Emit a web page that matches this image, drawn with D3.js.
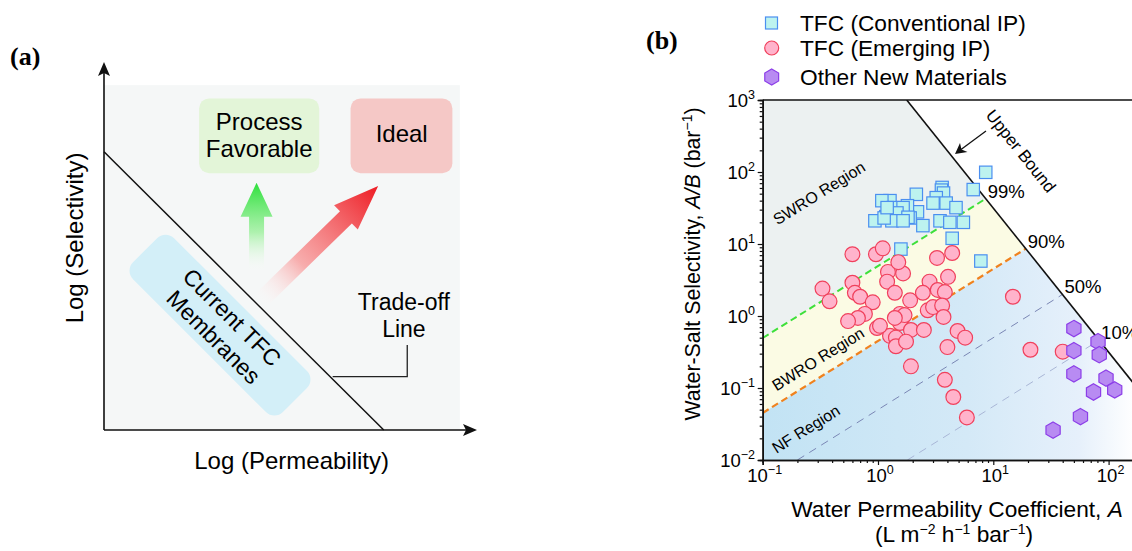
<!DOCTYPE html>
<html>
<head>
<meta charset="UTF-8">
<title></title>
<script src="https://cdn.jsdelivr.net/npm/d3@7"></script>
<style>
    body{margin:0;background:#fff;}
    svg{display:block;font-family:"Liberation Sans",Arial,sans-serif;}
</style>
</head>
<body>
<script>
// ---- panel (b) data ----
var conventionalA=[8.6,6.7,3.6,3.55,3.7,3.2,3.0,3.9,4.75,3.45,4.2,5.5,4.4,7.8,2.15,2.45,2.2,1.9,1.8,1.27,1.08,1.35,1.65,1.46,1.17,0.94,1.32,1.58,1.82,1.65,1.13,1.2];
var conventionalSel=[99,57,61,56,51,44,37,37,32,21,20,20,12,5.8,49,18,28,23,34,40,40,32,32,27,24,21,21,8.5,23.5,21,23,32];
var emergingA=[0.6,0.96,1.1,1.22,1.2,1.65,1.5,2.8,3.25,4.4,4.05,0.33,0.38,0.6,0.63,0.7,0.9,0.77,0.67,0.55,0.98,1.4,1.9,1.55,1.65,1.55,1.93,2.5,1.27,1.43,1.43,1.75,1.93,2.45,2.7,3.0,3.3,3.8,3.6,3.7,4.9,5.7,4.0,3.8,4.5,5.9,14.8,21,40,1.7,1.04,1.4];
var emergingSel=[7.2,7.2,8.7,4.1,3.0,3.9,5.6,3.0,6.4,7.5,3.5,2.4,1.6,2.9,2.1,1.85,1.55,1.07,0.94,0.85,0.68,2.1,1.65,1.07,0.97,0.8,0.64,0.64,0.53,0.5,0.38,0.44,0.2,2.1,1.2,1.33,2.3,2.15,1.4,0.97,0.62,0.5,0.37,0.13,0.075,0.039,1.85,0.34,0.32,1.03,0.73,0.94];
var otherA=[50,50,81,83,50,95,113,74,57,33];
var otherSel=[0.67,0.33,0.44,0.29,0.157,0.137,0.094,0.088,0.040,0.026];
var rejections=[0.99,0.9,0.5,0.1];
var rejectionLabels=["99%","90%","50%","10%"];
var fluxJw=20;          // L m-2 h-1 used for the iso-rejection lines
var upperBoundC=3150;   // A/B = C * A^-2
var decadesX=[0.1,1,10,100];
var decadesY=[0.01,0.1,1,10,100,1000];
var legendLabels=["TFC (Conventional IP)","TFC (Emerging IP)","Other New Materials"];
var regionLabels=["SWRO Region","BWRO Region","NF Region"];

var svg=d3.select("body").append("svg").attr("width",1132).attr("height",551);
var defs=svg.append("defs");

function sup(t,base,exp,fs){
    t.append("tspan").text(base);
    t.append("tspan").attr("font-size",fs).attr("dy",-8).text(exp);
}

// ================= panel (a) =================
var xa=d3.scaleLinear().domain([0,100]).range([104,477]);
var ya=d3.scaleLinear().domain([0,100]).range([430,62]);
var pa=svg.append("g");

pa.append("rect").attr("x",xa(0)).attr("y",ya(93.7)).attr("width",xa(95.4)-xa(0)).attr("height",ya(0)-ya(93.7))
    .style("fill","#f5f7f7");

// current membranes box (rotated)
var cur=pa.append("g").attr("transform","translate("+xa(31.1)+","+ya(28.5)+") rotate(45)");
cur.append("rect").attr("x",-106).attr("y",-29).attr("width",212).attr("height",58).attr("rx",12)
    .style("fill","#d3eff8");
cur.append("text").attr("x",3).attr("y",-6).attr("text-anchor","middle").attr("font-size",23).text("Current TFC");
cur.append("text").attr("x",4).attr("y",21).attr("text-anchor","middle").attr("font-size",23).text("Membranes");

// boxes
pa.append("rect").attr("x",xa(25.5)).attr("y",ya(90.1)).attr("width",xa(57.7)-xa(25.5)).attr("height",ya(69.8)-ya(90.1))
    .attr("rx",10).style("fill","#e3f5d8");
pa.append("rect").attr("x",xa(66.1)).attr("y",ya(90.1)).attr("width",xa(93.4)-xa(66.1)).attr("height",ya(69.8)-ya(90.1))
    .attr("rx",10).style("fill","#f5c8c6");
pa.append("text").attr("x",xa(41.6)).attr("y",130).attr("text-anchor","middle").attr("font-size",24).text("Process");
pa.append("text").attr("x",xa(41.6)).attr("y",156.5).attr("text-anchor","middle").attr("font-size",24).text("Favorable");
pa.append("text").attr("x",xa(79.8)).attr("y",142).attr("text-anchor","middle").attr("font-size",24).text("Ideal");

// arrows
var gg=defs.append("linearGradient").attr("id","gArrow").attr("x1",0).attr("y1",1).attr("x2",0).attr("y2",0);
gg.append("stop").attr("offset",0).attr("stop-color","#ffffff").attr("stop-opacity",0);
gg.append("stop").attr("offset",0.45).attr("stop-color","#9cf09c").attr("stop-opacity",0.8);
gg.append("stop").attr("offset",1).attr("stop-color","#2ee03c");
pa.append("path").attr("transform","translate("+xa(40.9)+","+ya(42.7)+")")
    .attr("d","M-7.5,0L-7.5,-56L-16,-56L0,-90L16,-56L7.5,-56L7.5,0Z")
    .style("fill","url(#gArrow)");
var rg=defs.append("linearGradient").attr("id","rArrow").attr("x1",0).attr("y1",0).attr("x2",1).attr("y2",0);
rg.append("stop").attr("offset",0).attr("stop-color","#ffffff").attr("stop-opacity",0);
rg.append("stop").attr("offset",0.35).attr("stop-color","#f8a0a0").attr("stop-opacity",0.85);
rg.append("stop").attr("offset",1).attr("stop-color","#ee1c24");
var rx0=xa(41.3),ry0=ya(34.5),rx1=xa(73.5),ry1=ya(66.3);
var rlen=Math.hypot(rx1-rx0,ry1-ry0),rang=Math.atan2(ry1-ry0,rx1-rx0)*180/Math.PI;
pa.append("path").attr("transform","translate("+rx0+","+ry0+") rotate("+rang+")")
    .attr("d","M0,-8.5L"+(rlen-45)+",-8.5L"+(rlen-45)+",-17L"+rlen+",0L"+(rlen-45)+",17L"+(rlen-45)+",8.5L0,8.5Z")
    .style("fill","url(#rArrow)");

// trade-off line
var tradeOff=[[0,75.6],[75,0]];
pa.append("path").attr("d",d3.line().x(function(d){return xa(d[0]);}).y(function(d){return ya(d[1]);})(tradeOff))
    .style("stroke","#111").style("stroke-width",1.5).style("fill","none");
pa.append("path").attr("d","M"+xa(61.3)+","+ya(14.5)+"H"+xa(81.3)+"V"+ya(23.1))
    .style("stroke","#222").style("stroke-width",1.3).style("fill","none");
pa.append("text").attr("x",xa(80.4)).attr("y",310).attr("text-anchor","middle").attr("font-size",23).text("Trade-off");
pa.append("text").attr("x",xa(80.4)).attr("y",336.5).attr("text-anchor","middle").attr("font-size",23).text("Line");

// axes with arrow heads
pa.append("path").attr("d","M"+xa(0)+","+ya(0)+"V"+(ya(100)+10)+"M"+xa(0)+","+ya(0)+"H"+(xa(100)-10))
    .style("stroke","#111").style("stroke-width",1.6).style("fill","none");
pa.append("path").attr("d","M"+xa(0)+","+ya(100)+"l-6,14l6,-3l6,3Z").style("fill","#111");
pa.append("path").attr("d","M"+xa(100)+","+ya(0)+"l-14,-6l3,6l-3,6Z").style("fill","#111");
pa.append("text").attr("x",xa(50.3)).attr("y",469).attr("text-anchor","middle").attr("font-size",24).text("Log (Permeability)");
pa.append("text").attr("transform","translate(83,238) rotate(-90)").attr("text-anchor","middle").attr("font-size",24).text("Log (Selectivity)");

svg.append("text").attr("x",10).attr("y",65).style("font-family","'Liberation Serif',serif").style("font-weight","bold")
    .attr("font-size",26).text("(a)");

// ================= panel (b) =================
var x=d3.scaleLog().domain([0.1,200]).range([762.7,1143.3]);
var y=d3.scaleLog().domain([0.01,1000]).range([460,100]);
var pb=svg.append("g");
svg.append("text").attr("x",646).attr("y",49).style("font-family","'Liberation Serif',serif").style("font-weight","bold")
    .attr("font-size",26).text("(b)");

defs.append("clipPath").attr("id","plotClip").append("rect")
    .attr("x",x(0.1)).attr("y",y(1000)).attr("width",x(200)-x(0.1)).attr("height",y(0.01)-y(1000));
var plot=pb.append("g").attr("clip-path","url(#plotClip)");

function rejK(r){return r/(1-r)/fluxJw;}
function meet(r){var a=Math.pow(upperBoundC/rejK(r),1/3);return [a,rejK(r)*a];}
function ub(a){return upperBoundC/(a*a);}
var aTop=Math.sqrt(upperBoundC/1000),aBot=Math.sqrt(upperBoundC/0.01);
var m99=meet(0.99),m90=meet(0.9);
var poly=d3.line().x(function(d){return x(d[0]);}).y(function(d){return y(d[1]);});

var nfg=defs.append("linearGradient").attr("id","nfGrad").attr("gradientUnits","userSpaceOnUse")
    .attr("x1",x(0.1)).attr("y1",0).attr("x2",1135).attr("y2",0);
nfg.append("stop").attr("offset",0).attr("stop-color","#c2e3f4");
nfg.append("stop").attr("offset",0.55).attr("stop-color","#d4e9f7");
nfg.append("stop").attr("offset",0.85).attr("stop-color","#e6f0fb");
nfg.append("stop").attr("offset",1).attr("stop-color","#ffffff");

plot.append("path").attr("d",poly([[0.1,1000],[aTop,1000],m99,[0.1,rejK(0.99)*0.1]])+"Z").style("fill","#ecf1f1");
plot.append("path").attr("d",poly([[0.1,rejK(0.99)*0.1],m99,m90,[0.1,rejK(0.9)*0.1]])+"Z").style("fill","#fbfbe4");
plot.append("path").attr("d",poly([[0.1,rejK(0.9)*0.1],m90,[aBot,0.01],[0.1,0.01]])+"Z").style("fill","url(#nfGrad)");

// iso-rejection lines
var rejStyle=[{c:"#3ee03a",w:2,d:"7,4"},{c:"#f0821e",w:2.2,d:"7,4"},{c:"#7a86b4",w:1,d:"8,6"},{c:"#a9b6d6",w:1,d:"8,6"}];
rejections.forEach(function(r,i){
    var k=rejK(r),m=meet(r),a0=Math.max(0.1,0.01/k);
    plot.append("path").attr("d",poly([[a0,k*a0],m])).style("stroke",rejStyle[i].c)
        .style("stroke-width",rejStyle[i].w).style("stroke-dasharray",rejStyle[i].d).style("fill","none");
    pb.append("text").attr("x",x(m[0])+2).attr("y",y(m[1])-1).attr("font-size",18.5).text(rejectionLabels[i]);
});
plot.append("path").attr("d",poly([[aTop,1000],[aBot,0.01]])).style("stroke","#111").style("stroke-width",1.6).style("fill","none");

// region labels
var slopeAng=-Math.atan2(y(1)-y(10),x(10)-x(1))*180/Math.PI;
var regPos=[[819,193],[818,359],[806,429]];
regionLabels.forEach(function(t,i){
    pb.append("text").attr("transform","translate("+regPos[i][0]+","+regPos[i][1]+") rotate("+(-Math.abs(slopeAng))+")")
        .attr("text-anchor","middle").attr("dy","0.35em").attr("font-size",16).text(t);
});
var ubAng=Math.atan2(y(ub(10))-y(ub(1)),x(10)-x(1))*180/Math.PI;
pb.append("text").attr("transform","translate(1021,151) rotate("+ubAng+")").attr("text-anchor","middle")
    .attr("dy","0.35em").attr("font-size",17).text("Upper Bound");
pb.append("path").attr("d","M986,131L961,149.5").style("stroke","#111").style("stroke-width",1.3);
pb.append("path").attr("d","M955,154l5,-11l1.5,6.5l6,2.5Z").style("fill","#111");

// markers
function hexPath(r){
    var p=[];for(var k=0;k<6;k++){var t=(-90+60*k)*Math.PI/180;p.push([r*Math.cos(t),r*Math.sin(t)]);}
    return "M"+p.join("L")+"Z";
}
pb.selectAll(".sq").data(conventionalA).enter().append("rect")
    .attr("x",function(d){return x(d)-6.2;}).attr("y",function(d,i){return y(conventionalSel[i])-6.2;})
    .attr("width",12.4).attr("height",12.4)
    .style("fill","#bdf3ef").style("stroke","#4b8ff0").style("stroke-width",1.2);
pb.selectAll(".ci").data(emergingA).enter().append("circle")
    .attr("cx",function(d){return x(d);}).attr("cy",function(d,i){return y(emergingSel[i]);}).attr("r",7.4)
    .style("fill","#ffb3cb").style("stroke","#f0405c").style("stroke-width",1.2);
pb.selectAll(".hx").data(otherA).enter().append("path")
    .attr("transform",function(d,i){return "translate("+x(d)+","+y(otherSel[i])+")";})
    .attr("d",hexPath(8.2))
    .style("fill","#b88bf2").style("stroke","#8c3ee8").style("stroke-width",1.2);

// axes
function minors(dom){
    var v=[];for(var e=-3;e<=3;e++)for(var k=2;k<=9;k++){var t=k*Math.pow(10,e);if(t>dom[0]&&t<dom[1])v.push(t);}
    return v;
}
var axL=pb.append("g").attr("transform","translate("+x(0.1)+",0)");
axL.call(d3.axisLeft(y).tickValues(decadesY).tickSize(5).tickFormat(""));
axL.append("g").call(d3.axisLeft(y).tickValues(minors([0.01,1000])).tickSize(3).tickFormat(""));
var axB=pb.append("g").attr("transform","translate(0,"+y(0.01)+")");
axB.call(d3.axisBottom(x).tickValues(decadesX).tickSize(5).tickFormat(""));
axB.append("g").call(d3.axisBottom(x).tickValues(minors([0.1,200])).tickSize(3).tickFormat(""));
pb.selectAll(".domain").style("stroke","#111").style("stroke-width",1.6);
pb.selectAll(".tick line").style("stroke","#111").style("stroke-width",1.2);
pb.append("path").attr("d","M"+x(0.1)+","+y(1000)+"H1132").style("stroke","#111").style("stroke-width",1.6);

decadesY.forEach(function(v){
    var t=pb.append("text").attr("x",755).attr("y",y(v)+7).attr("text-anchor","end").attr("font-size",18.5);
    sup(t,"10",String(Math.round(Math.log10(v))).replace("-","\u2212"),12.5);
});
decadesX.forEach(function(v){
    var t=pb.append("text").attr("x",x(v)+2).attr("y",482).attr("text-anchor","middle").attr("font-size",18.5);
    sup(t,"10",String(Math.round(Math.log10(v))).replace("-","\u2212"),12.5);
});

// axis titles
var yt=pb.append("text").attr("transform","translate(700,264) rotate(-90)").attr("text-anchor","middle").attr("font-size",21.3);
yt.append("tspan").text("Water-Salt Selectivity, ");
yt.append("tspan").style("font-style","italic").text("A/B");
yt.append("tspan").text(" (bar");
yt.append("tspan").attr("font-size",14).attr("dy",-8).text("\u22121");
yt.append("tspan").attr("dy",8).text(")");

var xt=pb.append("text").attr("x",957).attr("y",517).attr("text-anchor","middle").attr("font-size",22.7);
xt.append("tspan").text("Water Permeability Coefficient, ");
xt.append("tspan").style("font-style","italic").text("A");
var xt2=pb.append("text").attr("x",954).attr("y",542).attr("text-anchor","middle").attr("font-size",22.7);
xt2.append("tspan").text("(L m");
xt2.append("tspan").attr("font-size",14).attr("dy",-8).text("\u22122");
xt2.append("tspan").attr("dy",8).text(" h");
xt2.append("tspan").attr("font-size",14).attr("dy",-8).text("\u22121");
xt2.append("tspan").attr("dy",8).text(" bar");
xt2.append("tspan").attr("font-size",14).attr("dy",-8).text("\u22121");
xt2.append("tspan").attr("dy",8).text(")");

// legend
var lg=pb.append("g");
var legY=[23,48,77];
lg.append("rect").attr("x",765.5).attr("y",legY[0]-6).attr("width",12).attr("height",12)
    .style("fill","#bdf3ef").style("stroke","#4b8ff0").style("stroke-width",1.2);
lg.append("circle").attr("cx",771.7).attr("cy",legY[1]).attr("r",7)
    .style("fill","#ffb3cb").style("stroke","#f0405c").style("stroke-width",1.2);
lg.append("path").attr("transform","translate(771.7,"+legY[2]+")").attr("d",hexPath(8))
    .style("fill","#b88bf2").style("stroke","#8c3ee8").style("stroke-width",1.2);
legendLabels.forEach(function(t,i){
    lg.append("text").attr("x",800).attr("y",legY[i]+7.5).attr("font-size",22.7).text(t);
});
</script>
</body>
</html>
